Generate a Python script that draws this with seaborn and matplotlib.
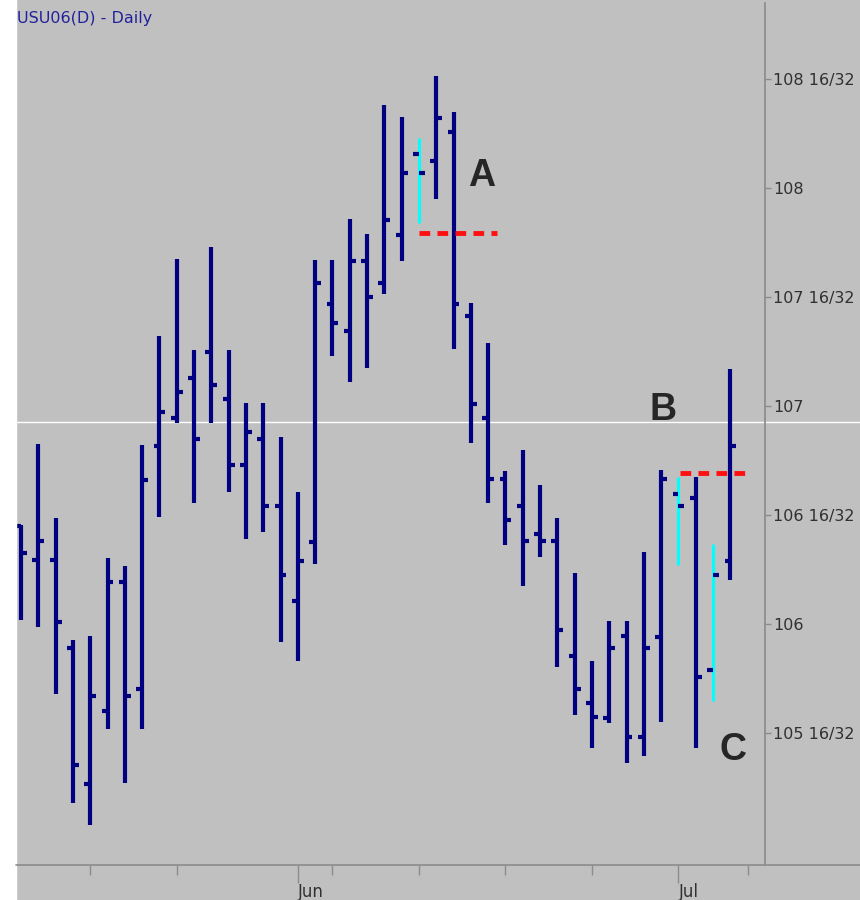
import seaborn as sns
import matplotlib.pyplot as plt
import pandas as pd
from matplotlib.lines import Line2D
from matplotlib.patches import Rectangle

sns.set_theme(style="white")
plt.rcParams['font.family'] = ['DejaVu Sans']

# USU06 daily bars, 9 May - 7 Jul 2006 (one entry per trading day)
opens = [106.450, 106.294, 106.294, 105.890, 105.266, 105.601, 106.193, 105.702, 106.817, 106.946,
         107.130, 107.249, 107.032, 106.729, 106.849, 106.543, 106.106, 106.378, 107.467, 107.344,
         107.666, 107.566, 107.783, 108.157, 108.125, 108.255, 107.413, 106.945, 106.664, 106.543,
         106.413, 106.381, 105.855, 105.636, 105.570, 105.943, 105.483, 105.942, 106.596, 106.577,
         105.789, 106.290]
highs = [106.454, 106.826, 106.486, 105.927, 105.945, 106.303, 106.266, 106.821, 107.322, 107.674,
         107.257, 107.731, 107.257, 107.015, 107.015, 106.858, 106.607, 107.672, 107.672, 107.856,
         107.789, 108.382, 108.328, 108.230, 108.515, 108.351, 107.472, 107.289, 106.704, 106.798,
         106.638, 106.485, 106.234, 105.832, 106.015, 106.014, 106.332, 106.706, 106.673, 106.673,
         106.367, 107.170]
lows = [106.018, 105.986, 105.679, 105.179, 105.078, 105.518, 105.271, 105.518, 106.492, 106.923,
        106.555, 106.923, 106.607, 106.389, 106.423, 105.919, 105.832, 106.273, 107.229, 107.109,
        107.176, 107.514, 107.666, 107.838, 107.952, 107.260, 106.830, 106.556, 106.360, 106.174,
        106.306, 105.801, 105.580, 105.430, 105.547, 105.364, 105.394, 105.549, 106.271, 105.430,
        105.648, 106.202]
closes = [106.326, 106.381, 106.009, 105.353, 105.670, 106.193, 105.670, 106.661, 106.974, 107.064,
          106.849, 107.096, 106.729, 106.882, 106.543, 106.225, 106.290, 107.566, 107.380, 107.666,
          107.499, 107.853, 108.070, 108.070, 108.321, 107.466, 107.007, 106.664, 106.479, 106.381,
          106.381, 105.972, 105.701, 105.572, 105.889, 105.482, 105.889, 106.664, 106.543, 105.756,
          106.225, 106.817]
cyan_bars = [23, 38, 40]  # highlighted bars

# dashed reference levels: (start bar, end bar, price)
level_a = (23.0, 27.5, 107.796)
level_b = (38.1, 42.0, 106.694)
notes = [("A", 26.6, 108.055), ("B", 37.1, 106.982), ("C", 41.15, 105.422)]
crosshair = 106.927

week_ticks = [4, 9, 18, 23, 28, 33, 42]
month_ticks = [16, 38]
month_labels = ["Jun", "Jul"]
price_ticks = [105.5, 106.0, 106.5, 107.0, 107.5, 108.0, 108.5]


def fmt32(v):
    whole = int(v)
    frac = round((v - whole) * 32)
    return f"{whole}" if frac == 0 else f"{whole} {frac}/32"


bars = pd.DataFrame({"bar": range(len(opens)), "open": opens, "high": highs,
                     "low": lows, "close": closes})
bars["cyan"] = bars["bar"].isin(cyan_bars)

# long tables for seaborn: one unit per segment
hl = pd.concat([
    pd.DataFrame({"x": bars["bar"], "price": bars["high"], "unit": bars["bar"], "cyan": bars["cyan"]}),
    pd.DataFrame({"x": bars["bar"], "price": bars["low"], "unit": bars["bar"], "cyan": bars["cyan"]}),
])
tw = 0.34
ticks = pd.concat([
    pd.DataFrame({"x": bars["bar"] - tw, "price": bars["open"], "unit": bars["bar"]}),
    pd.DataFrame({"x": bars["bar"] + 0.0, "price": bars["open"], "unit": bars["bar"]}),
    pd.DataFrame({"x": bars["bar"] + 0.0, "price": bars["close"], "unit": bars["bar"] + 1000}),
    pd.DataFrame({"x": bars["bar"] + tw, "price": bars["close"], "unit": bars["bar"] + 1000}),
])
levels = pd.DataFrame({
    "x": [level_a[0], level_a[1], level_b[0], level_b[1]],
    "price": [level_a[2], level_a[2], level_b[2], level_b[2]],
    "unit": [0, 0, 1, 1],
})

bg = "#c0c0c0"
navy = "#000080"
grey = "#8c8c8c"

fig = plt.figure(figsize=(8.6, 9), dpi=100, facecolor=bg)
fig.patches.append(Rectangle((0, 0), 16 / 860, 1, transform=fig.transFigure,
                             color="white", zorder=0))
ax = fig.add_axes([16 / 860, 35 / 900, 749 / 860, 862 / 900])
ax.set_facecolor(bg)

# white crosshair across the whole chart, including the price column
ax.axhline(crosshair, xmin=0, xmax=(860 - 16) / (765 - 16), color="white",
           lw=1, clip_on=False, zorder=1)

sns.lineplot(data=hl[~hl["cyan"]], x="x", y="price", units="unit", estimator=None,
             sort=False, color=navy, lw=3.0, solid_capstyle="butt", ax=ax, legend=False)
sns.lineplot(data=hl[hl["cyan"]], x="x", y="price", units="unit", estimator=None,
             sort=False, color="#00ffff", lw=2.2, solid_capstyle="butt", ax=ax, legend=False)
sns.lineplot(data=ticks, x="x", y="price", units="unit", estimator=None,
             sort=False, color=navy, lw=3.0, solid_capstyle="butt", ax=ax, legend=False)
sns.lineplot(data=levels, x="x", y="price", units="unit", estimator=None,
             sort=False, color="#ff1010", lw=3.5, ls=(0, (2.2, 1.5)), ax=ax, legend=False)

for txt, xv, yv in notes:
    ax.text(xv, yv, txt, ha="center", va="center", fontsize=27, fontweight="bold",
            color="#262626", family=["Liberation Sans Narrow", "Liberation Sans", "DejaVu Sans"])

ax.set_xlim(-0.29, 43.0)
ax.set_ylim(104.894, 108.849)
ax.set_xlabel("")
ax.set_ylabel("")

for side in ["top", "left"]:
    ax.spines[side].set_visible(False)
ax.spines["right"].set_color(grey)
ax.spines["bottom"].set_visible(False)
fig.add_artist(Line2D([16 / 860, 1], [35 / 900, 35 / 900], color=grey, lw=1.2,
                      transform=fig.transFigure))

ax.yaxis.tick_right()
ax.set_yticks(price_ticks, [fmt32(v) for v in price_ticks])
ax.tick_params(axis="y", which="major", right=True, left=False, labelright=True,
               labelleft=False, direction="out", length=4, width=1, color=grey,
               labelsize=11.5, labelcolor="#303030", pad=2)

ax.set_xticks(week_ticks, minor=True)
ax.set_xticks(month_ticks, month_labels)
for lab in ax.get_xticklabels():
    lab.set_horizontalalignment("left")
ax.tick_params(axis="x", which="minor", bottom=True, direction="out", length=7,
               width=1, color=grey)
ax.tick_params(axis="x", which="major", bottom=True, direction="out", length=13,
               width=1, color=grey, labelsize=12, labelcolor="#303030", pad=0)

fig.text(17 / 860, 1 - 19 / 900, "USU06(D) - Daily", color="#22229a",
         fontsize=11.5, va="center", ha="left")

fig.savefig("out.png", dpi=100, facecolor=bg)
